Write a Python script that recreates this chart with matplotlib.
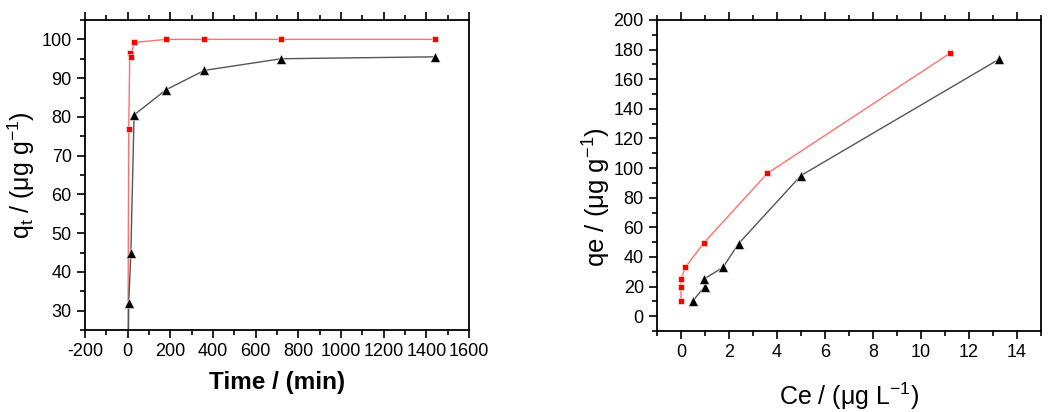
import numpy as np
import matplotlib.pyplot as plt
from matplotlib.ticker import MultipleLocator

plt.rcParams['font.family'] = ['Liberation Sans', 'DejaVu Sans']

# kinetics (left)
t_red = [0, 5, 10, 15, 30, 180, 360, 720, 1440]
q_red = [0, 77, 96.5, 95.5, 99.2, 100, 100, 100, 100]
t_blk = [0, 5, 15, 30, 180, 360, 720, 1440]
q_blk = [0, 32, 45, 80.5, 87, 92, 95, 95.5]

# isotherm (right)
ce_red = [0, 0, 0, 0.18, 0.95, 3.6, 11.2]
qe_red = [10, 20, 25, 33, 49.5, 96.5, 177.5]
ce_blk = [0.48, 0.98, 0.95, 1.75, 2.4, 5.0, 13.25]
qe_blk = [10, 20, 25, 33, 49, 95, 173.5]

fig = plt.figure(figsize=(10.5, 4.12), dpi=100)
ax1 = fig.add_axes([85/1050, 82/412, 384/1050, 310/412])
ax2 = fig.add_axes([657/1050, 81/412, 384/1050, 311/412])

line_red = '#ff7070'
line_blk = '#555555'

ax1.plot(t_red, q_red, '-', color=line_red, lw=1, zorder=2)
ax1.plot(t_red, q_red, 's', color='red', ms=5, mec='white', mew=0.4, zorder=3)
ax1.plot(t_blk, q_blk, '-', color=line_blk, lw=1, zorder=2)
ax1.plot(t_blk, q_blk, '^', color='black', ms=6.5, mec='white', mew=0.4, zorder=3)
ax1.set_xlim(-200, 1600)
ax1.set_ylim(25, 105)
ax1.xaxis.set_major_locator(MultipleLocator(200))
ax1.xaxis.set_minor_locator(MultipleLocator(100))
ax1.yaxis.set_major_locator(MultipleLocator(10))
ax1.yaxis.set_minor_locator(MultipleLocator(5))
ax1.set_xticks([-200, 0, 200, 400, 600, 800, 1000, 1200, 1400, 1600])
ax1.set_xticklabels(['-200', '0', '200', '400', '600', '800', '1000', '1200', '1400', '1600'])
ax1.set_xlabel('Time / (min)', fontsize=17.5, fontweight='bold', labelpad=8)
ax1.set_ylabel(r'q$_\mathregular{t}$ / ($\mathregular{\mu}$g g$^\mathregular{-1}$)', fontsize=18)
ax1.yaxis.set_label_coords(-0.125, 0.5)

ax2.plot(ce_red, qe_red, '-', color=line_red, lw=1, zorder=2)
ax2.plot(ce_red, qe_red, 's', color='red', ms=5, mec='white', mew=0.4, zorder=3)
ax2.plot(ce_blk, qe_blk, '-', color=line_blk, lw=1, zorder=2)
ax2.plot(ce_blk, qe_blk, '^', color='black', ms=6.5, mec='white', mew=0.4, zorder=3)
ax2.set_xlim(-1, 15)
ax2.set_ylim(-10, 200)
ax2.xaxis.set_major_locator(MultipleLocator(2))
ax2.xaxis.set_minor_locator(MultipleLocator(1))
ax2.yaxis.set_major_locator(MultipleLocator(20))
ax2.yaxis.set_minor_locator(MultipleLocator(10))
ax2.set_xticks(range(0, 15, 2))
ax2.set_yticks(range(0, 201, 20))
ax2.set_xlabel(r'Ce / ($\mathregular{\mu}$g L$^\mathregular{-1}$)', fontsize=18, labelpad=14)
ax2.set_ylabel(r'qe / ($\mathregular{\mu}$g g$^\mathregular{-1}$)', fontsize=18.5)
ax2.yaxis.set_label_coords(-0.118, 0.43)

for ax in (ax1, ax2):
    for s in ax.spines.values():
        s.set_linewidth(1.3)
    ax.tick_params(which='both', direction='out', top=True, right=False, width=1.2, labelsize=13)
    ax.tick_params(which='major', length=6)
    ax.tick_params(which='minor', length=3.5)

fig.savefig('out.png', dpi=100)
